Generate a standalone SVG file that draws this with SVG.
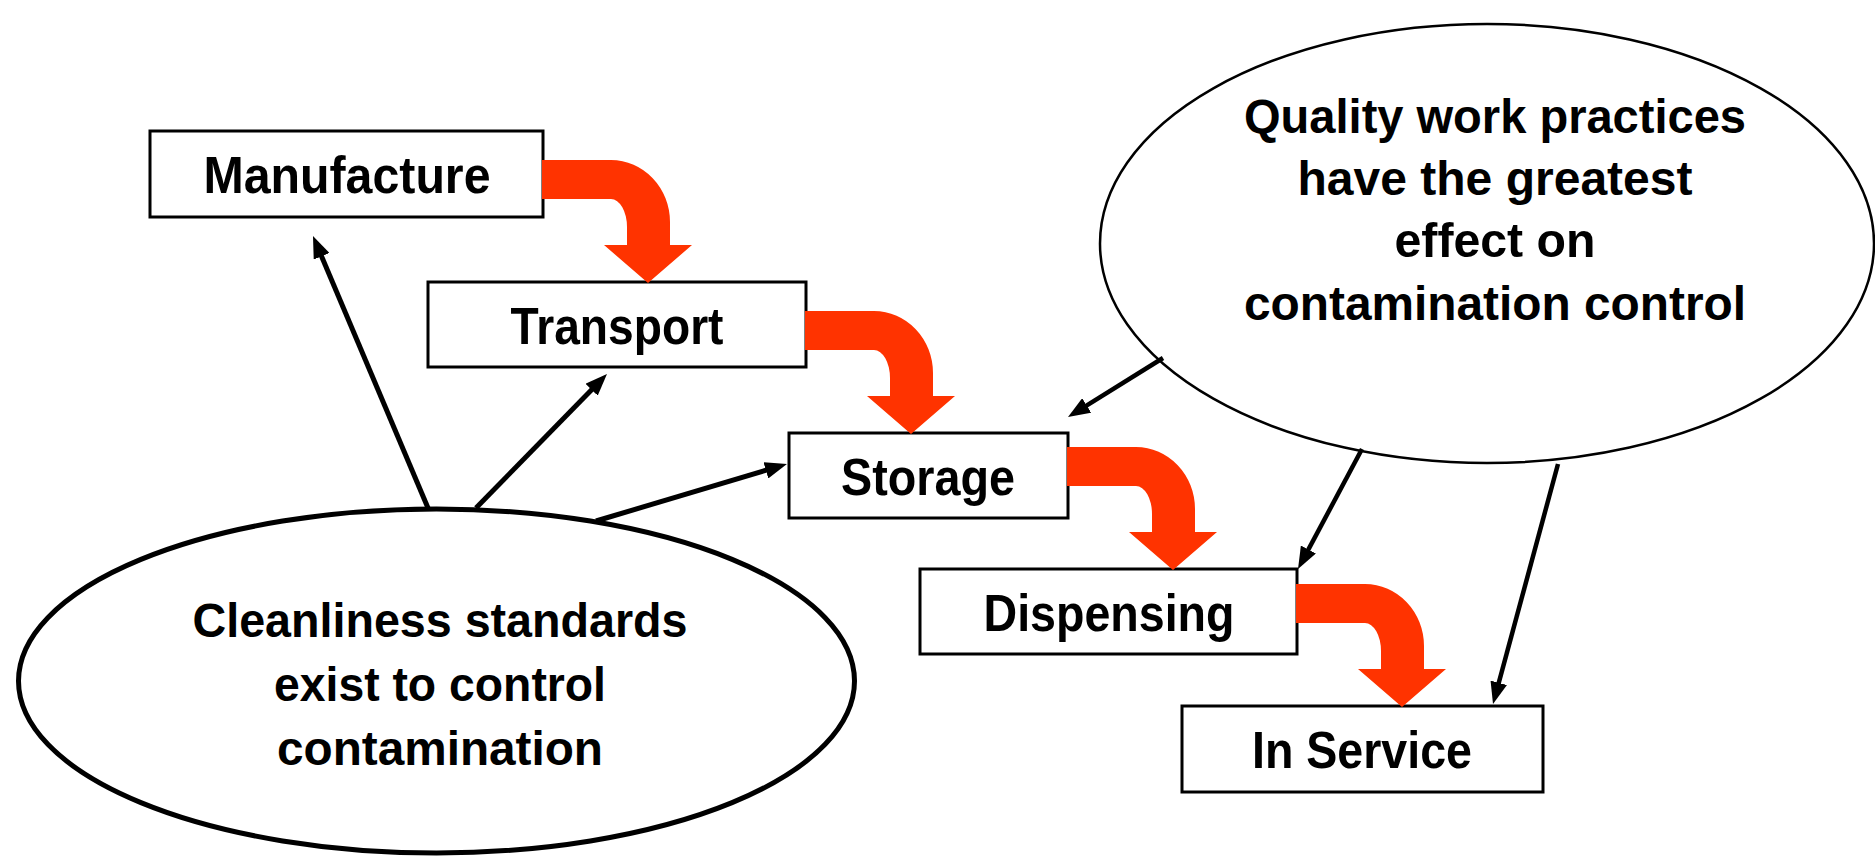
<svg xmlns="http://www.w3.org/2000/svg" xmlns:xlink="http://www.w3.org/1999/xlink" width="1875" height="857" viewBox="0 0 1875 857">
  <style>
    .box { fill: #ffffff; stroke: #000000; stroke-width: 3; }
    .ell-left { fill: #ffffff; stroke: #000000; stroke-width: 5; }
    .ell-right { fill: #ffffff; stroke: #000000; stroke-width: 2.5; }
    .lbl { font-family: "Liberation Sans", Arial, sans-serif; font-weight: bold; font-size: 52px; fill: #000000; text-anchor: middle; }
    .elbl { font-family: "Liberation Sans", Arial, sans-serif; font-weight: bold; font-size: 48px; fill: #000000; text-anchor: middle; }
    .link { fill: none; stroke: #000000; stroke-width: 5; marker-end: url(#ah); }
    .link-thin { fill: none; stroke: #000000; stroke-width: 4.5; marker-end: url(#ah); }
    .flow { fill: #FF3300; stroke: none; }
  </style>
  <defs>
    <marker id="ah" markerUnits="userSpaceOnUse" markerWidth="22" markerHeight="17" refX="14" refY="8.5" orient="auto">
      <path d="M0,0 L22,8.5 L0,17 Z" fill="#000000"/>
    </marker>
    <path id="bend" d="M0,0 H69 A59,62 0 0 1 128,62 V85 H150 L106,123 L62,85 H85 V67 A16,28 0 0 0 69,39 H0 Z"/>
  </defs>
  <rect x="0" y="0" width="1875" height="857" fill="#ffffff"/>

  <g id="cleanliness">
    <ellipse class="ell-left" cx="436.5" cy="681" rx="418" ry="172"/>
    <text class="elbl" x="440" y="637" textLength="495" lengthAdjust="spacingAndGlyphs">Cleanliness standards</text>
    <text class="elbl" x="440" y="701" textLength="332" lengthAdjust="spacingAndGlyphs">exist to control</text>
    <text class="elbl" x="440" y="765" textLength="326" lengthAdjust="spacingAndGlyphs">contamination</text>
  </g>

  <g id="quality">
    <ellipse class="ell-right" cx="1487" cy="243.5" rx="387" ry="219.5"/>
    <text class="elbl" x="1495" y="133" textLength="502" lengthAdjust="spacingAndGlyphs">Quality work practices</text>
    <text class="elbl" x="1495" y="195" textLength="395" lengthAdjust="spacingAndGlyphs">have the greatest</text>
    <text class="elbl" x="1495" y="257" textLength="201" lengthAdjust="spacingAndGlyphs">effect on</text>
    <text class="elbl" x="1495" y="320" textLength="502" lengthAdjust="spacingAndGlyphs">contamination control</text>
  </g>

  <g id="manufacture">
    <rect class="box" x="150" y="131" width="393" height="86"/>
    <text class="lbl" x="347" y="193" textLength="287" lengthAdjust="spacingAndGlyphs">Manufacture</text>
  </g>

  <g id="transport">
    <rect class="box" x="428" y="282" width="378" height="85"/>
    <text class="lbl" x="617" y="344" textLength="213" lengthAdjust="spacingAndGlyphs">Transport</text>
  </g>

  <g id="storage">
    <rect class="box" x="789" y="433" width="279" height="85"/>
    <text class="lbl" x="928" y="495" textLength="174" lengthAdjust="spacingAndGlyphs">Storage</text>
  </g>

  <g id="dispensing">
    <rect class="box" x="920" y="569" width="377" height="85"/>
    <text class="lbl" x="1109" y="631" textLength="251" lengthAdjust="spacingAndGlyphs">Dispensing</text>
  </g>

  <g id="in-service">
    <rect class="box" x="1182" y="706" width="361" height="86"/>
    <text class="lbl" x="1362" y="768" textLength="220" lengthAdjust="spacingAndGlyphs">In Service</text>
  </g>

  <g id="connectors">
    <line class="link" x1="428" y1="508" x2="316.1" y2="243.4"/>
    <line class="link" x1="476" y1="508" x2="601.4" y2="379.7"/>
    <line class="link" x1="596" y1="521" x2="779.3" y2="466.3"/>
    <line class="link-thin" x1="1163" y1="358" x2="1074.8" y2="412.8"/>
    <line class="link-thin" x1="1362" y1="449" x2="1301.8" y2="561.9"/>
    <line class="link-thin" x1="1558" y1="464" x2="1495.1" y2="696.3"/>

    <use class="flow" xlink:href="#bend" href="#bend" transform="translate(542,160)"/>
    <use class="flow" xlink:href="#bend" href="#bend" transform="translate(805,311)"/>
    <use class="flow" xlink:href="#bend" href="#bend" transform="translate(1067,447)"/>
    <use class="flow" xlink:href="#bend" href="#bend" transform="translate(1296,584)"/>
  </g>
</svg>
